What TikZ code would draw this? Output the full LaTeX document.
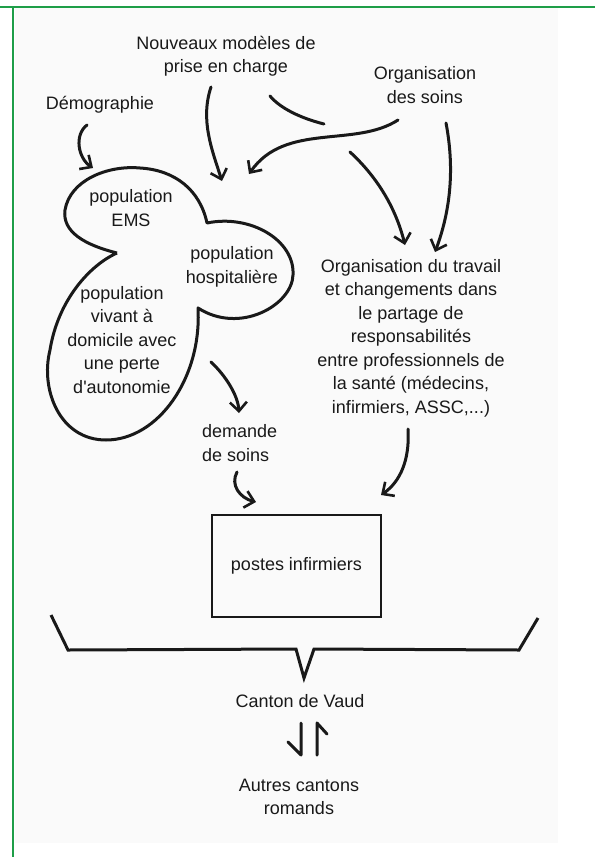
\documentclass[tikz,border=0pt]{standalone}
\usepackage{fontspec}
\setmainfont{Liberation Sans}[Ligatures=TeXOff]
\usetikzlibrary{arrows.meta}
\definecolor{frameg}{RGB}{30,158,72}
\definecolor{paper}{RGB}{250,250,250}
\definecolor{ink}{RGB}{25,25,25}
\tikzset{
  lbl/.style={align=center, text=ink, inner sep=0pt, font=\fontsize{18}{23.5}\selectfont},
  hand/.style={draw=ink, line width=3pt, line cap=round, line join=round},
  harrow/.style={hand, -{Straight Barb[length=9pt,width=17pt,line width=2.6pt]}},
  outline/.style={draw=ink, line width=3pt, line join=round},
}
\begin{document}
\begin{tikzpicture}[x=1pt,y=-1pt]
\useasboundingbox (0,0) rectangle (595,857);
\fill[white] (0,0) rectangle (595,857);
\fill[paper] (15,8) rectangle (558,843);
\draw[frameg, line width=2pt] (0,6.5) -- (595,6.5);
\draw[frameg, line width=2pt] (12.7,6.5) -- (12.7,857);

% text nodes
\node[lbl] (nouv) at (226,56) {Nouveaux modèles de\\prise en charge};
\node[lbl] (org) at (425,85) {Organisation\\des soins};
\node[lbl] (demog) at (100,105) {Démographie};
\node[lbl] (ems) at (131,208) {population\\EMS};
\node[lbl] (hosp) at (232,267) {population\\hospitalière};
\node[lbl] (dom) at (122,340) {population\\vivant à\\domicile avec\\une perte\\d'autonomie};
\node[lbl] (orgtrav) at (411,338) {Organisation du travail\\et changements dans\\le partage de\\responsabilités\\entre professionnels de\\la santé (médecins,\\infirmiers, ASSC,...)};
\node[lbl, align=left, anchor=west] (demande) at (202,443) {demande\\de soins};
\node[lbl, draw=ink, line width=2.8pt, minimum width=169pt, minimum height=102pt] (box) at (296.5,566) {postes infirmiers};
\node[lbl] (canton) at (300,701) {Canton de Vaud};
\node[lbl] (autres) at (299,797) {Autres cantons\\romands};

% blob outline (three lobes)
\draw[outline] (117,253)
  .. controls (85,245) and (62,232) .. (65,210)
  .. controls (70,180) and (108,165) .. (140,168)
  .. controls (175,170) and (200,190) .. (207,223)
  .. controls (250,214) and (295,240) .. (293,275)
  .. controls (292,305) and (240,335) .. (198,308)
  .. controls (202,378) and (158,440) .. (106,440)
  .. controls (60,440) and (40,390) .. (50,350)
  .. controls (58,300) and (90,265) .. (117,253);

% connector end points
\coordinate (dA) at (87,125);   \coordinate (dB) at (93,168);
\coordinate (nA) at (211,87);   \coordinate (nB) at (222,181);
\coordinate (oA) at (398,120);  \coordinate (oB) at (249,174);
\coordinate (tA) at (270,96);   \coordinate (tB) at (324,124);
\coordinate (tC) at (350,152);  \coordinate (tD) at (405,245);
\coordinate (sA) at (446,123);  \coordinate (sB) at (435,252);
\coordinate (bA) at (211,362);  \coordinate (bB) at (239,413);
\coordinate (eA) at (237,472);  \coordinate (eB) at (256,502);
\coordinate (rA) at (408,429);  \coordinate (rB) at (381,495);

\draw[harrow] (dA) .. controls (74,135) and (78,158) .. (dB);
\draw[harrow] (nA) .. controls (200,120) and (212,150) .. (nB);
\draw[harrow] (oA) .. controls (355,148) and (285,122) .. (oB);
\draw[hand] (tA) .. controls (280,108) and (300,118) .. (tB);
\draw[harrow] (tC) .. controls (375,175) and (395,205) .. (tD);
\draw[harrow] (sA) .. controls (455,170) and (450,212) .. (sB);
\draw[harrow] (bA) .. controls (225,375) and (238,395) .. (bB);
\draw[harrow] (eA) .. controls (230,485) and (240,498) .. (eB);
\draw[harrow] (rA) .. controls (410,460) and (400,482) .. (rB);

% brace
\coordinate (tip) at (304,678);
\draw[hand, line width=3pt, line cap=butt, line join=miter]
  (51,615) -- (68,650) -- (296,649) -- (tip) -- (314,649) -- (519,650) -- (538,618);

% harpoons between canton and autres
\coordinate (hdA) at (301,723); \coordinate (hdB) at (301,755);
\coordinate (huA) at (317,755); \coordinate (huB) at (317,723);
\draw[hand] (hdA) -- (hdB) -- ++(-13,-13);
\draw[hand] (huA) -- (huB) -- ++(10,11);
\end{tikzpicture}
\end{document}
